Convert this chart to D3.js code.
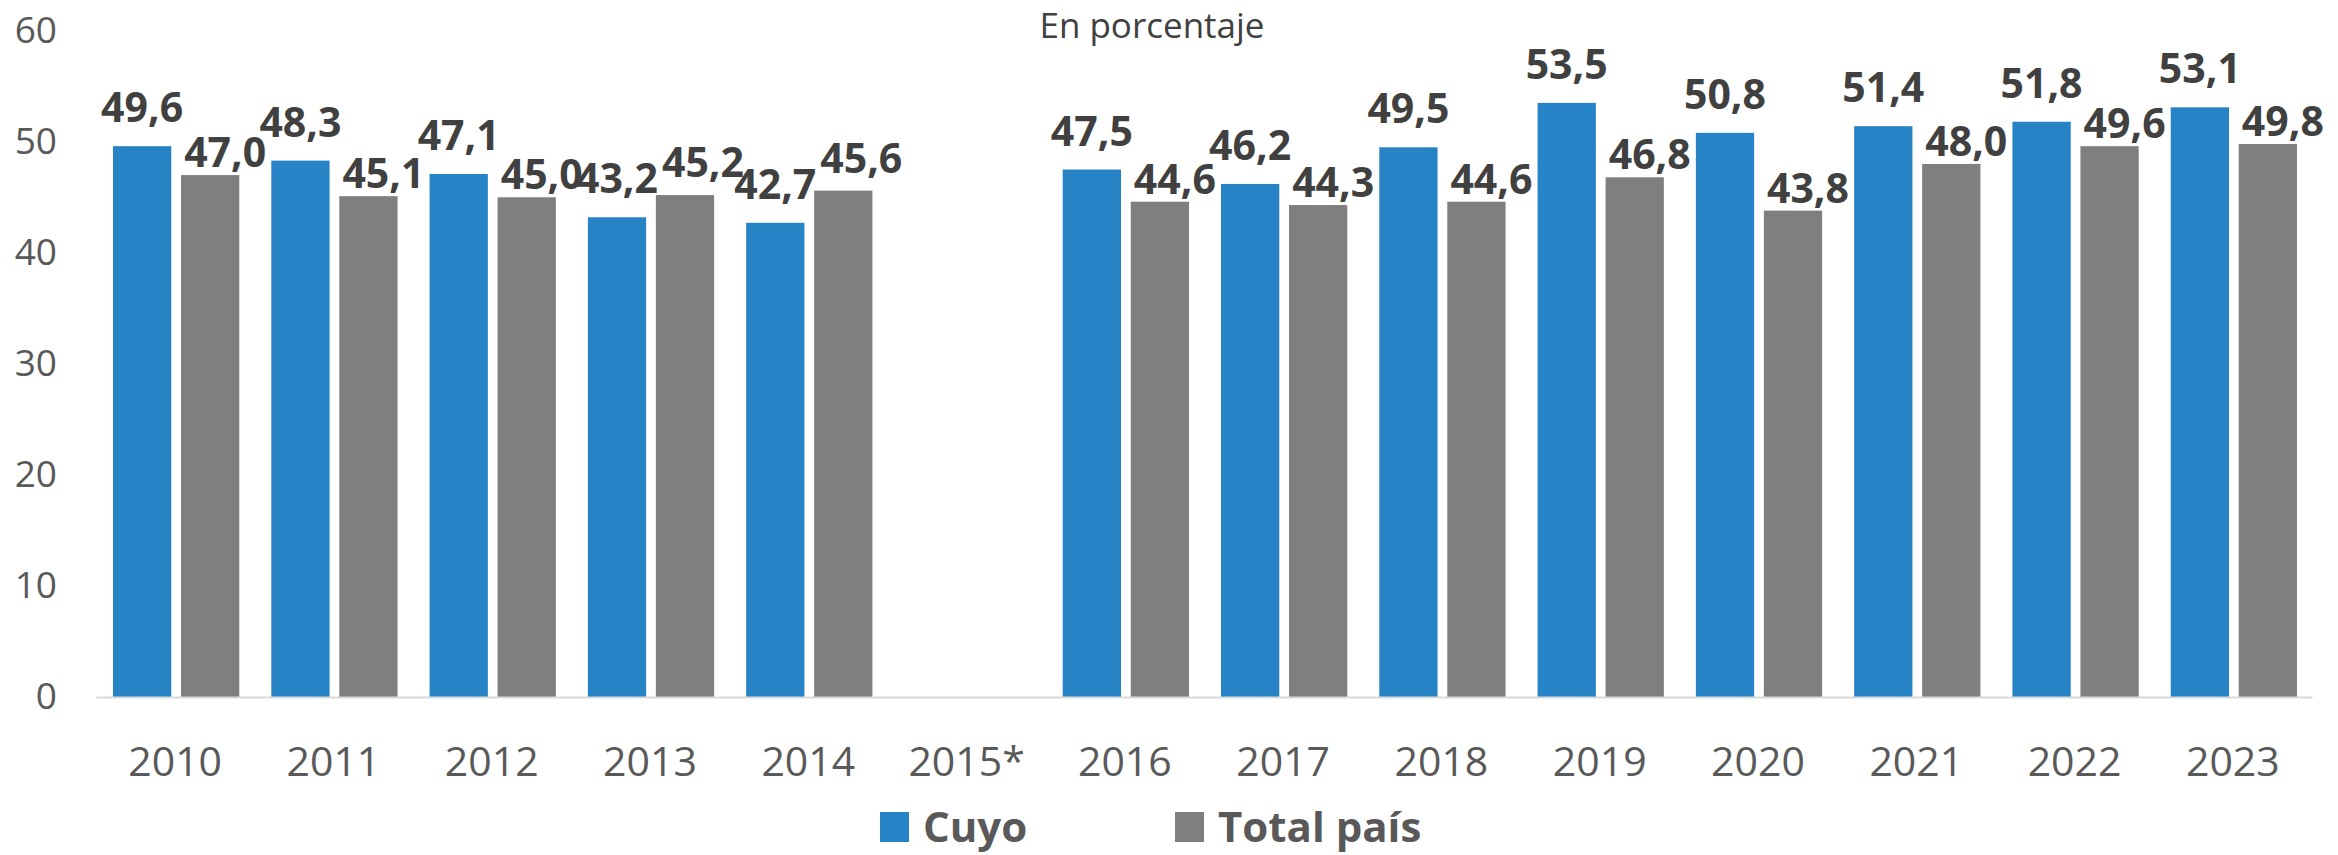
<!DOCTYPE html>
<html>
<head>
<meta charset="utf-8">
<script src="https://cdn.jsdelivr.net/npm/d3@7"></script>
<style>
  body { margin: 0; background: #fff; }
  svg { display: block; font-family: "Open Sans", sans-serif; }
</style>
</head>
<body>
<div id="chart"></div>
<script>
// datos
var years = ["2010", "2011", "2012", "2013", "2014", "2015*", "2016", "2017", "2018", "2019", "2020", "2021", "2022", "2023"];
var cuyo = [49.6, 48.3, 47.1, 43.2, 42.7, null, 47.5, 46.2, 49.5, 53.5, 50.8, 51.4, 51.8, 53.1];
var totalPais = [47.0, 45.1, 45.0, 45.2, 45.6, null, 44.6, 44.3, 44.6, 46.8, 43.8, 48.0, 49.6, 49.8];
var seriesNames = ["Cuyo", "Total país"];
var yTicks = [0, 10, 20, 30, 40, 50, 60];
var title = "En porcentaje";

var W = 2338, H = 855;
var blue = "#2683c6", gray = "#7f7f7f";
var colors = [blue, gray];

var fmt = d3.formatLocale({decimal: ",", thousands: ".", grouping: [3], currency: ["$", ""]}).format(".1f");

var svg = d3.select("#chart")
    .append("svg")
    .attr("width", W)
    .attr("height", H);

var x0 = d3.scaleBand()
    .domain(years)
    .range([96, 2312])
    .padding(0);

var step = x0.step();
var x1 = d3.scaleBand()
    .domain(seriesNames)
    .range([17, step - 15])
    .paddingInner(0.143);

var y = d3.scaleLinear()
    .domain([0, 60])
    .range([697, 30.7]);

// titulo
svg.append("text")
    .attr("x", 1152)
    .attr("y", 38)
    .attr("text-anchor", "middle")
    .style("font-size", "35px")
    .style("fill", "#404040")
    .text(title);

// eje y (solo etiquetas)
var yAxis = svg.append("g")
    .attr("transform", "translate(96,0)")
    .call(d3.axisLeft(y).tickValues(yTicks).tickSize(0).tickPadding(39));
yAxis.select(".domain").remove();
yAxis.selectAll("text")
    .style("font-family", "'Open Sans', sans-serif")
    .style("font-size", "37px")
    .style("fill", "#595959");

// barras
var rows = years.map(function(yr, i) {
    return {year: yr, vals: [cuyo[i], totalPais[i]]};
});

var groups = svg.append("g").selectAll("g")
    .data(rows)
    .join("g")
    .attr("transform", function(d) { return "translate(" + x0(d.year) + ",0)"; });

var cells = groups.selectAll("g")
    .data(function(d) {
        return d.vals.map(function(v, k) {
            return {name: seriesNames[k], k: k, v: v, other: d.vals[1 - k]};
        }).filter(function(e) { return e.v != null; });
    })
    .join("g");

cells.append("rect")
    .attr("x", function(d) { return x1(d.name); })
    .attr("y", function(d) { return y(d.v); })
    .attr("width", x1.bandwidth())
    .attr("height", function(d) { return y(0) - y(d.v); })
    .style("fill", function(d) { return colors[d.k]; });

// etiquetas de datos: las del total van corridas a la derecha
function labelDx(d) {
    if (d.k == 0) return 0;
    return d.v < d.other ? 15 : 18;
}
function labelGap(d) {
    if (d.k == 0) return 24;
    return d.v < d.other ? 8 : 18;
}

cells.append("text")
    .attr("x", function(d) { return x1(d.name) + x1.bandwidth() / 2 + labelDx(d); })
    .attr("y", function(d) { return y(d.v) - labelGap(d); })
    .attr("text-anchor", "middle")
    .style("font-size", "41px")
    .style("font-weight", "bold")
    .style("fill", "#404040")
    .text(function(d) { return fmt(d.v); });

// eje x
var xAxis = svg.append("g")
    .attr("transform", "translate(0,697)")
    .call(d3.axisBottom(x0).tickSize(0).tickSizeOuter(0).tickPadding(50));
xAxis.select(".domain")
    .style("stroke", "#d9d9d9")
    .style("stroke-width", 2);
xAxis.selectAll("text")
    .style("font-family", "'Open Sans', sans-serif")
    .style("font-size", "41px")
    .style("fill", "#595959");

// leyenda
var legendX = [880, 1175];
var legend = svg.append("g").selectAll("g")
    .data(seriesNames)
    .join("g")
    .attr("transform", function(d, i) { return "translate(" + legendX[i] + ",0)"; });

legend.append("rect")
    .attr("x", 0)
    .attr("y", 812)
    .attr("width", 29)
    .attr("height", 30)
    .style("fill", function(d, i) { return colors[i]; });

legend.append("text")
    .attr("x", 43)
    .attr("y", 842)
    .style("font-size", "42px")
    .style("font-weight", "bold")
    .style("fill", "#595959")
    .text(function(d) { return d; });
</script>
</body>
</html>
